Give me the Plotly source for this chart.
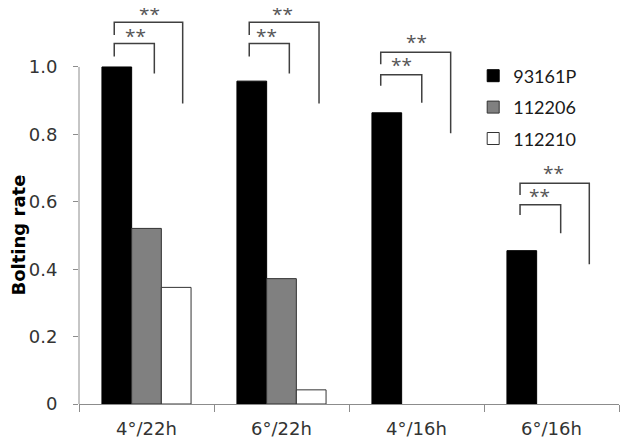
import plotly.graph_objects as go

# bolting rate per condition
conditions = ["4°/22h", "6°/22h", "4°/16h", "6°/16h"]
rate_93161P = [1.0, 0.958, 0.864, 0.455]
rate_112206 = [0.521, 0.372, None, None]
rate_112210 = [0.346, 0.042, None, None]

ytick_vals = [0, 0.2, 0.4, 0.6, 0.8, 1.0]
ytick_text = ["0", "0.2", "0.4", "0.6", "0.8", "1.0"]

# significance brackets: category index, x offsets (left, inner right, outer right),
# inner (left foot, top, right foot), outer (left foot, top, right foot), star positions
brackets = [
    dict(i=0, xl=-0.239, xi=0.058, xo=0.268, inner=(1.031, 1.070, 0.981), outer=(1.095, 1.133, 0.892),
         si=(-0.085, 1.093), so=(0.019, 1.156)),
    dict(i=1, xl=-0.239, xi=0.058, xo=0.278, inner=(1.031, 1.070, 0.981), outer=(1.095, 1.133, 0.892),
         si=(-0.11, 1.093), so=(0.011, 1.156)),
    dict(i=2, xl=-0.265, xi=0.039, xo=0.253, inner=(0.944, 0.977, 0.894), outer=(1.008, 1.044, 0.803),
         si=(-0.11, 1.006), so=(0.0, 1.075)),
    dict(i=3, xl=-0.233, xi=0.068, xo=0.280, inner=(0.561, 0.591, 0.507), outer=(0.620, 0.655, 0.415),
         si=(-0.09, 0.617), so=(0.013, 0.686)),
]

fig = go.Figure()
fig.add_trace(go.Bar(x=conditions, y=rate_93161P, name="93161P", legendgroup="a",
                     marker=dict(color="#000000", line=dict(color="#000000", width=1))))
fig.add_trace(go.Bar(x=conditions, y=rate_112206, name="112206", legendgroup="b",
                     marker=dict(color="#808080", line=dict(color="#333333", width=1))))
fig.add_trace(go.Bar(x=conditions, y=rate_112210, name="112210", legendgroup="c",
                     marker=dict(color="#ffffff", line=dict(color="#333333", width=1))))

line = dict(color="#404040", width=1.5)
for b in brackets:
    x0 = b["i"] + b["xl"]
    for xr, (yl, yt, yr) in ((b["i"] + b["xi"], b["inner"]), (b["i"] + b["xo"], b["outer"])):
        fig.add_shape(type="path", xref="x", yref="y", line=line,
                      path=f"M {x0},{yl} L {x0},{yt} L {xr},{yt} L {xr},{yr}")
    for sx, sy in (b["si"], b["so"]):
        fig.add_annotation(x=b["i"] + sx, y=sy, xref="x", yref="y", text="**", showarrow=False,
                           font=dict(family="Open Sans", size=19, color="#555555"))

# y axis line only up to 1.0
fig.add_shape(type="line", xref="paper", yref="y", x0=0, x1=0, y0=0, y1=1.0,
              line=dict(color="#8c8c8c", width=1))

fig.add_annotation(x=0, y=0.5, xref="paper", yref="y", xshift=-61, xanchor="center",
                   text="<b>Bolting rate</b>", textangle=-90, showarrow=False,
                   font=dict(family="DejaVu Sans", size=18, color="#000000"))

# the page body adds an 8px margin, so the figure is 8px smaller than the window
fig.update_layout(
    width=623, height=434,
    margin=dict(l=71, r=12, t=0, b=38),
    paper_bgcolor="white", plot_bgcolor="white",
    barmode="group", bargap=0.34, bargroupgap=0,
    legend=dict(x=0.73, y=0.875, xanchor="left", yanchor="top", traceorder="grouped",
                tracegroupgap=5, itemwidth=30,
                font=dict(family="Lato", size=18, color="#1a1a1a"), bgcolor="rgba(0,0,0,0)"),
    font=dict(family="DejaVu Sans", size=18, color="#333333"),
)
fig.update_xaxes(range=[-0.5, 3.5], showline=True, linecolor="#8c8c8c", linewidth=1,
                 ticks="outside", tickson="boundaries", ticklen=7, tickcolor="#8c8c8c",
                 showgrid=False, zeroline=False, ticklabelstandoff=8, automargin=False)
fig.update_yaxes(range=[0, 1.175], tickvals=ytick_vals, ticktext=ytick_text,
                 showline=False, ticks="outside", ticklen=5, tickcolor="#8c8c8c",
                 showgrid=False, zeroline=False, ticklabelstandoff=12, automargin=False)

fig.write_html("out.html")
